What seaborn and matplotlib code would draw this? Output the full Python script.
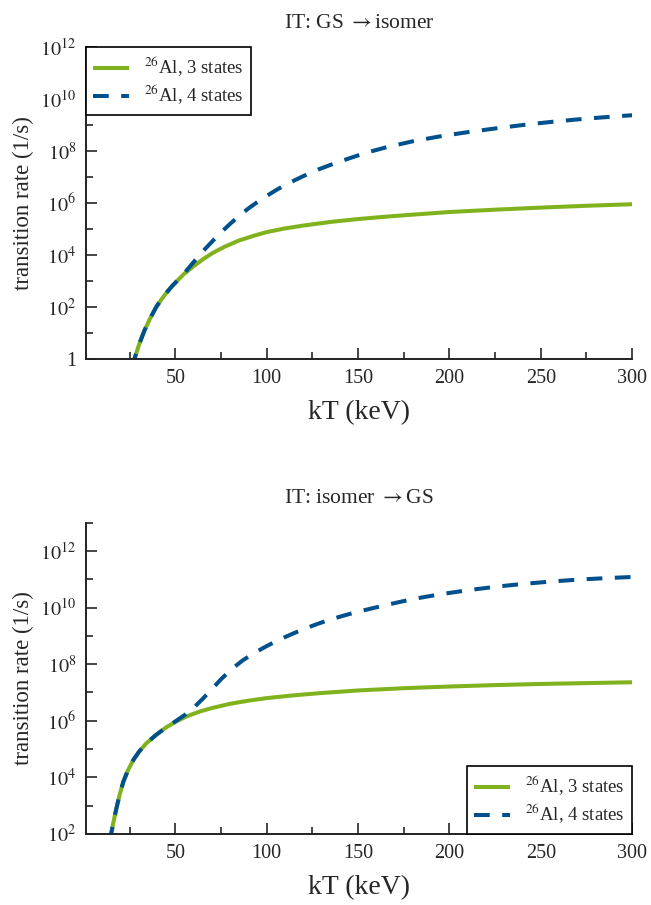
import numpy as np
import pandas as pd
import matplotlib
matplotlib.use('Agg')
import matplotlib.pyplot as plt
import matplotlib.ticker as mticker
import seaborn as sns

# --- data (log10 of transition rate in 1/s) ---
# IT: GS -> isomer
kt_up_3 = [26, 27.5, 30, 33, 36, 39.4, 42, 45, 48, 51, 55, 60, 65, 70, 77, 85, 93, 100,
           110, 120, 135, 150, 165, 180, 200, 225, 250, 275, 300]
log_up_3 = [-0.37, 0, 0.55, 1.1, 1.55, 2.0, 2.27, 2.55, 2.8, 3.02, 3.3, 3.58, 3.84, 4.07, 4.33,
            4.57, 4.75, 4.89, 5.03, 5.14, 5.28, 5.39, 5.48, 5.56, 5.66, 5.75, 5.83, 5.9, 5.96]

kt_up_4 = [26, 27.5, 30, 33, 36, 39.4, 42, 45, 48, 51, 55, 60, 65, 70, 75, 80, 85, 90, 95, 100,
           106, 112, 120, 128, 136, 145, 155, 165, 180, 195, 210, 226, 242, 258, 275, 290, 300]
log_up_4 = [-0.37, 0, 0.55, 1.1, 1.55, 2.0, 2.27, 2.55, 2.8, 3.02, 3.32, 3.74, 4.15, 4.52, 4.88,
            5.21, 5.52, 5.8, 6.05, 6.28, 6.54, 6.77, 7.04, 7.29, 7.5, 7.72, 7.95, 8.14, 8.38,
            8.57, 8.73, 8.88, 9.02, 9.14, 9.25, 9.33, 9.38]

# IT: isomer -> GS
kt_down_3 = [14, 14.8, 16, 17.5, 19.3, 21.5, 24, 27, 30, 34, 39.4, 45, 50, 56, 63, 70, 80, 90,
             100, 115, 130, 150, 175, 200, 225, 250, 275, 300]
log_down_3 = [1.7, 2.0, 2.4, 2.85, 3.35, 3.85, 4.25, 4.62, 4.9, 5.2, 5.5, 5.77, 5.96, 6.15,
              6.32, 6.45, 6.6, 6.71, 6.8, 6.9, 6.98, 7.07, 7.15, 7.21, 7.26, 7.3, 7.33, 7.36]

kt_down_4 = [14, 14.8, 16, 17.5, 19.3, 21.5, 24, 27, 30, 34, 39.4, 45, 50, 55, 60, 65, 70, 75,
             81, 87, 93, 100, 107, 114, 121, 129, 136, 144, 151, 166, 180, 195, 211, 226, 241,
             256, 271, 286, 300]
log_down_4 = [1.7, 2.0, 2.4, 2.85, 3.35, 3.85, 4.25, 4.62, 4.9, 5.2, 5.5, 5.77, 5.98, 6.2,
              6.46, 6.78, 7.12, 7.47, 7.84, 8.14, 8.39, 8.64, 8.87, 9.07, 9.26, 9.45, 9.6, 9.75,
              9.87, 10.1, 10.3, 10.47, 10.62, 10.74, 10.84, 10.92, 10.99, 11.04, 11.08]

labels = ['$^{26}$Al, 3 states', '$^{26}$Al, 4 states']
green = '#80b21e'
blue = '#00508e'


def make_df(kt3, lg3, kt4, lg4):
    d3 = pd.DataFrame({'kT': kt3, 'rate': 10.0 ** np.array(lg3), 'model': labels[0]})
    d4 = pd.DataFrame({'kT': kt4, 'rate': 10.0 ** np.array(lg4), 'model': labels[1]})
    return pd.concat([d3, d4], ignore_index=True)


df_up = make_df(kt_up_3, log_up_3, kt_up_4, log_up_4)
df_down = make_df(kt_down_3, log_down_3, kt_down_4, log_down_4)

sns.set_style('ticks')
plt.rcParams['font.family'] = ['Liberation Serif', 'DejaVu Serif']
plt.rcParams['mathtext.fontset'] = 'stix'


def fmt_pow(v, pos):
    n = int(round(np.log10(v)))
    if n == 0:
        return '1'
    return '$10^{%d}$' % n


fig = plt.figure(figsize=(6.51, 9.05), dpi=100)
ax1 = fig.add_axes([0.132, 0.603, 0.839, 0.345])
ax2 = fig.add_axes([0.132, 0.0785, 0.839, 0.344])

panels = [
    (ax1, df_up, 'IT: GS $\\rightarrow$isomer', (1, 1e12), 'upper left', range(0, 13, 2)),
    (ax2, df_down, 'IT: isomer $\\rightarrow$GS', (1e2, 1e13), 'lower right', range(2, 13, 2)),
]

for ax, d, title, ylim, loc, majors in panels:
    sns.lineplot(data=d, x='kT', y='rate', hue='model', style='model',
                 palette=[green, blue], dashes=[(1, 0), (3.9, 3.1)],
                 linewidth=2.9, ax=ax, sort=False)
    ax.set_yscale('log')
    ax.set_xlim(1, 300)
    ax.set_ylim(*ylim)
    ax.set_xticks([50, 100, 150, 200, 250, 300])
    ax.xaxis.set_minor_locator(mticker.FixedLocator([25, 75, 125, 175, 225, 275]))
    ax.set_yticks([10.0 ** k for k in majors])
    ax.yaxis.set_major_formatter(mticker.FuncFormatter(fmt_pow))
    lo = int(np.log10(ylim[0]))
    hi = int(np.log10(ylim[1]))
    ax.yaxis.set_minor_locator(mticker.FixedLocator([10.0 ** k for k in range(lo, hi + 1) if k not in majors]))
    ax.yaxis.set_minor_formatter(mticker.NullFormatter())
    ax.tick_params(which='major', direction='in', length=8, width=1.2, labelsize=14.5, pad=7)
    ax.tick_params(which='minor', direction='in', length=5, width=1.2)
    for s in ['left', 'bottom']:
        ax.spines[s].set_linewidth(1.4)
        ax.spines[s].set_color('#222222')
    sns.despine(ax=ax)
    ax.set_title(title, fontsize=15.5, pad=14)
    ax.set_xlabel('kT (keV)', fontsize=20, labelpad=9)
    ax.set_ylabel('transition rate (1/s)', fontsize=16.5, labelpad=4)
    leg = ax.legend(loc=loc, fontsize=13.5, frameon=True, fancybox=False, framealpha=1,
                    edgecolor='black', borderaxespad=0, handlelength=1.9, borderpad=0.4,
                    labelspacing=0.2, handletextpad=0.8)
    leg.get_frame().set_linewidth(1.2)

fig.savefig('out.png', dpi=100)
